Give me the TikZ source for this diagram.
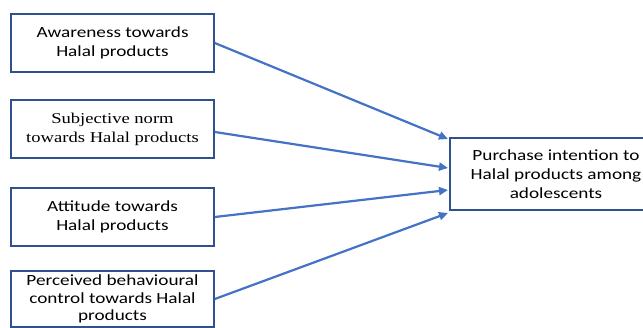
\documentclass[tikz,border=0pt]{standalone}
\usepackage{fontspec}
\setmainfont{Carlito}[FakeStretch=1.24]
\newfontfamily\serifbox{Liberation Serif}[FakeStretch=1.24]
\usetikzlibrary{arrows.meta}

\definecolor{boxline}{RGB}{47,82,143}
\definecolor{arrowblue}{RGB}{68,114,196}

\tikzset{
  factor/.style={draw=boxline,line width=1.6pt,minimum width=203pt,minimum height=58pt,align=center,font=\fontsize{15.5}{19}\selectfont},
  link/.style={draw=arrowblue,line width=2.2pt,-{Triangle[length=9pt,width=8pt]}}
}

\begin{document}
\begin{tikzpicture}[x=1pt,y=-1pt]
  \clip (0,0) rectangle (643,327);
  %factors
  \node[factor] (aw) at (112.5,43) {Awareness towards\\Halal products};
  \node[factor,font=\serifbox\fontsize{15}{19}\selectfont] (sn) at (112.5,129) {Subjective norm\\towards Halal products};
  \node[factor] (at) at (112.5,217) {Attitude towards\\Halal products};
  \node[factor,minimum height=56pt,inner ysep=1pt,font=\fontsize{15.5}{17.5}\selectfont] (pbc) at (112.5,299) {Perceived behavioural\\control towards Halal\\products};
  
  %outcome
  \node[factor,minimum width=212pt,minimum height=72pt] (pi) at (556,174) {Purchase intention to\\Halal products among\\adolescents};
  \coordinate (in1) at (448,139);
  \coordinate (in2) at (448,168);
  \coordinate (in3) at (448,190);
  \coordinate (in4) at (448,213);
  
  \draw[link] (aw.east) -- (in1);
  \draw[link] (sn.east) ++(0,3) -- (in2);
  \draw[link] (at.east) -- (in3);
  \draw[link] (pbc.east) -- (in4);
\end{tikzpicture}
\end{document}
